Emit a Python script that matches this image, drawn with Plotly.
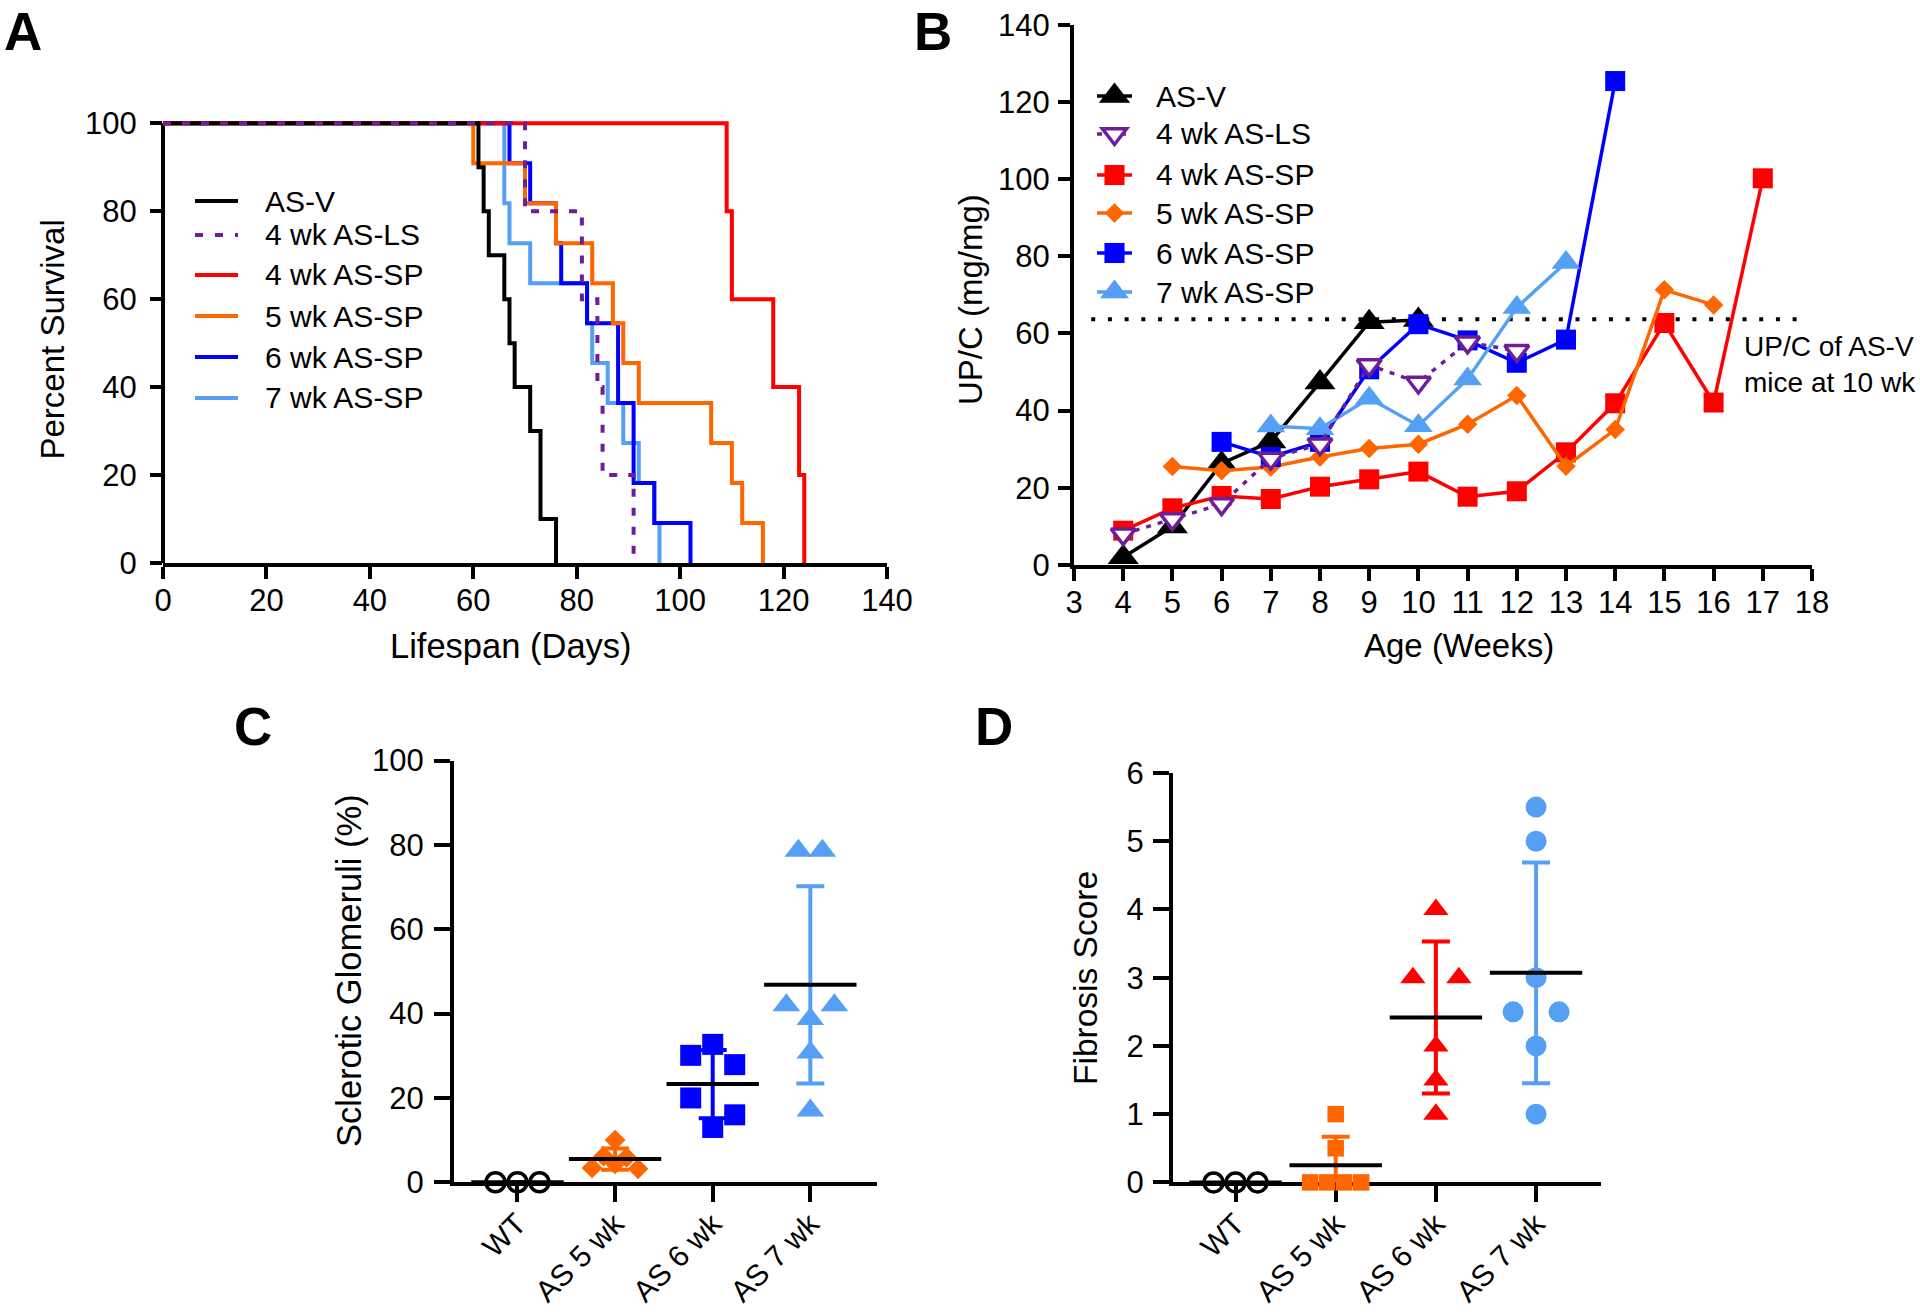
import numpy as np
import plotly.graph_objects as go

W, H = 1920, 1314
FONT = "Liberation Sans, Arial, Helvetica, sans-serif"

BLACK = "#000000"
PURPLE = "#6E1E96"
RED = "#FF0000"
ORANGE = "#FF6600"
BLUE = "#0000FF"
LBLUE = "#55A0F5"

# ------------------------------------------------------------------ data
# Panel A: Kaplan-Meier survival (day of each drop, % surviving after it)
asv_days = [0, 61, 62, 63, 66, 67, 68, 71, 73, 76]
asv_surv = [100, 90, 80, 70, 60, 50, 40, 30, 10, 0]
ls4_days = [0, 70, 81, 84, 85, 91]
ls4_surv = [100, 80, 60, 40, 20, 0]
sp4_days = [0, 109, 110, 118, 123, 124]
sp4_surv = [100, 80, 60, 40, 20, 0]
sp5_days = [0, 60, 70, 76, 83, 87, 89, 92, 106, 110, 112, 116]
sp5_surv = [100, 90.9, 81.8, 72.7, 63.6, 54.5, 45.5, 36.4, 27.3, 18.2, 9.1, 0]
sp6_days = [0, 67, 71, 76, 77, 82, 88, 91, 95, 102]
sp6_surv = [100, 90.9, 81.8, 72.7, 63.6, 54.5, 36.4, 18.2, 9.1, 0]
sp7_days = [0, 66, 67, 71, 82, 83, 86, 89, 92, 95, 96]
sp7_surv = [100, 81.8, 72.7, 63.6, 54.5, 45.5, 36.4, 27.3, 18.2, 9.1, 0]

# Panel B: UP/C (mg/mg) by age (weeks)
asv_wk = [4, 5, 6, 7, 8, 9, 10]
asv_upc = [2, 10, 26.3, 32, 47.3, 62.9, 63.5]
ls4_wk = [4, 5, 6, 7, 8, 9, 10, 11, 12]
ls4_upc = [8, 11.9, 15.8, 27.6, 31.3, 51.8, 47.3, 57.7, 55.5]
sp4_wk = [4, 5, 6, 7, 8, 9, 10, 11, 12, 13, 14, 15, 16, 17]
sp4_upc = [8.9, 14.7, 17.9, 17.1, 20.3, 22.2, 24.2, 17.7, 19.1, 29.2, 41.9, 62.7, 42.1, 100.2]
sp5_wk = [5, 6, 7, 8, 9, 10, 11, 12, 13, 14, 15, 16]
sp5_upc = [25.5, 24.4, 25.4, 28, 30.2, 31.3, 36.5, 43.9, 25.6, 35.1, 71.3, 67.4]
sp6_wk = [6, 7, 8, 9, 10, 11, 12, 13, 14]
sp6_upc = [31.9, 28, 31.9, 50.7, 62.4, 58.2, 52.4, 58.4, 125.4]
sp7_wk = [7, 8, 9, 10, 11, 12, 13]
sp7_upc = [36, 35.3, 43.2, 36.1, 48.2, 66.7, 78.4]
asv_ref_10wk = 63.7

# Panels C and D
groups = ["WT", "AS 5 wk", "AS 6 wk", "AS 7 wk"]
wt_scl = [0, 0, 0]
as5_scl = [10, 6.2, 5.9, 3.4, 4.4, 3.2]
as6_scl = [30.1, 32.7, 27.9, 20, 13, 16]
as7_scl = [78.6, 78.6, 42, 38.7, 42, 30.8, 17]
wt_fib = [0, 0, 0]
as5_fib = [1, 0.5, 0, 0, 0, 0]
as6_fib = [4, 3, 3, 2, 1.5, 1]
as7_fib = [5.5, 5, 3, 2.5, 2.5, 2, 1]

# ------------------------------------------------------------------ layout helpers
def px_x(x):
    return x / W


def px_y(y):
    return 1 - y / H


# plot-area pixel boxes (left, right) and (bottom, top)
A_X, A_Y, A_RX, A_RY = (163, 887), (563, 114.5), [0, 140], [0, 102]
B_X, B_Y, B_RX, B_RY = (1074, 1812), (565, 24.7), [3, 18], [0, 140]
C_X, C_Y, C_RX, C_RY = (454, 877.3), (1182.3, 760.5), [-0.65, 3.686], [0, 100]
D_X, D_Y, D_RX, D_RY = (1173, 1601), (1182.4, 773), [-0.624, 3.648], [0, 6]


def axis(box, horizontal, **kw):
    if horizontal:
        dom = [box[0] / W, box[1] / W]
    else:
        dom = [1 - box[0] / H, 1 - box[1] / H]
    d = dict(domain=dom, showline=True, linecolor="black", linewidth=4,
             ticks="outside", tickwidth=4, tickcolor="black", ticklen=12,
             showgrid=False, zeroline=False, layer="below traces", automargin=False,
             tickfont=dict(family=FONT, size=31, color="black"), fixedrange=True)
    d.update(kw)
    return d


fig = go.Figure()

# ------------------------------------------------------------------ Panel A
surv = [
    (sp7_days, sp7_surv, LBLUE, "solid"),
    (sp6_days, sp6_surv, BLUE, "solid"),
    (sp5_days, sp5_surv, ORANGE, "solid"),
    (sp4_days, sp4_surv, RED, "solid"),
    (asv_days, asv_surv, BLACK, "solid"),
    (ls4_days, ls4_surv, PURPLE, "8px,11px"),
]
for d, s, c, dash in surv:
    fig.add_trace(go.Scatter(x=d, y=s, mode="lines", xaxis="x", yaxis="y",
                             line=dict(shape="hv", color=c, width=4, dash=dash),
                             hoverinfo="skip"))

# ------------------------------------------------------------------ Panel B
b_series = [
    (asv_wk, asv_upc, BLACK, "solid", dict(symbol="triangle-up", size=27, color=BLACK)),
    (sp4_wk, sp4_upc, RED, "solid", dict(symbol="square", size=20, color=RED)),
    (sp5_wk, sp5_upc, ORANGE, "solid", dict(symbol="diamond", size=15, color=ORANGE)),
    (sp6_wk, sp6_upc, BLUE, "solid", dict(symbol="square", size=20, color=BLUE)),
    (sp7_wk, sp7_upc, LBLUE, "solid", dict(symbol="triangle-up", size=25, color=LBLUE)),
    (ls4_wk, ls4_upc, PURPLE, "5px,7px",
     dict(symbol="triangle-down", size=21, color="white", line=dict(color=PURPLE, width=3.5))),
]
for x, y, c, dash, mk in b_series:
    fig.add_trace(go.Scatter(x=x, y=y, mode="lines+markers", xaxis="x2", yaxis="y2",
                             line=dict(color=c, width=3.5, dash=dash), marker=mk,
                             cliponaxis=False, hoverinfo="skip"))


# ------------------------------------------------------------------ Panels C, D
def row_offsets(vals, px_per_unit, band_px, step_px, cat_px):
    """Prism-style scatter: values in the same symbol-height band share a row,
    spread horizontally and centred on the category."""
    rows = {}
    for i, v in enumerate(vals):
        rows.setdefault(int(np.floor(v * px_per_unit / band_px + 1e-9)), []).append(i)
    off = np.zeros(len(vals))
    for idx in rows.values():
        n = len(idx)
        for k, i in enumerate(idx):
            off[i] = (k - (n - 1) / 2) * step_px / cat_px
    return off


def dot_panel(xa, ya, box_x, box_y, rx, ry, sets):
    ppu = (box_y[0] - box_y[1]) / (ry[1] - ry[0])
    cat_px = (box_x[1] - box_x[0]) / (rx[1] - rx[0])
    for k, (vals, color, mk, band, step) in enumerate(sets):
        off = row_offsets(vals, ppu, band, step, cat_px)
        fig.add_trace(go.Scatter(x=k + off, y=vals, mode="markers", xaxis=xa, yaxis=ya,
                                 marker=mk, cliponaxis=False, hoverinfo="skip"))
        m = float(np.mean(vals))
        sd = float(np.std(vals, ddof=1))
        fig.add_trace(go.Scatter(
            x=[k], y=[m], mode="markers", xaxis=xa, yaxis=ya, cliponaxis=False,
            hoverinfo="skip",
            error_y=dict(type="data", array=[sd], color=color, thickness=4, width=14),
            marker=dict(symbol="line-ew", size=66, color=BLACK,
                        line=dict(color=BLACK, width=4))))


dot_panel("x3", "y3", C_X, C_Y, C_RX, C_RY, [
    (wt_scl, BLACK, dict(symbol="circle-open", size=19, color=BLACK, line=dict(width=3.5)), 20, 22),
    (as5_scl, ORANGE, dict(symbol="diamond", size=16, color=ORANGE), 20, 23),
    (as6_scl, BLUE, dict(symbol="square", size=21, color=BLUE), 21.7, 44),
    (as7_scl, LBLUE, dict(symbol="triangle-up", size=24, color=LBLUE), 23, 24),
])
dot_panel("x4", "y4", D_X, D_Y, D_RX, D_RY, [
    (wt_fib, BLACK, dict(symbol="circle-open", size=19, color=BLACK, line=dict(width=3.5)), 20, 22),
    (as5_fib, ORANGE, dict(symbol="square", size=16.5, color=ORANGE), 16.6, 17),
    (as6_fib, RED, dict(symbol="triangle-up", size=22, color=RED), 21.5, 46),
    (as7_fib, LBLUE, dict(symbol="circle", size=21, color=LBLUE), 20.7, 46),
])

# ------------------------------------------------------------------ annotations
ann = []


def text(x, y, s, size, angle=0, xanchor="center", yanchor="middle", bold=False, align="center"):
    ann.append(dict(x=px_x(x), y=px_y(y), xref="paper", yref="paper", text=f"<b>{s}</b>" if bold else s,
                    showarrow=False, textangle=angle, xanchor=xanchor, yanchor=yanchor, align=align,
                    font=dict(family=FONT, size=size, color="black")))


# panel letters (A and B hang from the top edge so their text boxes stay on the page)
text(22.5, 0, "A", 53, yanchor="top", bold=True)
text(933, 0, "B", 53, yanchor="top", bold=True)
text(253.5, 726, "C", 53, bold=True)
text(994, 726, "D", 53, bold=True)

text(51.5, 340, "Percent Survival", 33, angle=-90)
text(511, 646, "Lifespan (Days)", 34.5)
text(970, 300, "UP/C (mg/mg)", 33, angle=-90)
text(1459, 646, "Age (Weeks)", 33)
text(349, 971, "Sclerotic Glomeruli (%)", 34.5, angle=-90)
text(1085, 978, "Fibrosis Score", 33.5, angle=-90)
text(1742, 364, "UP/C of AS-V<br>mice at 10 wk", 28, xanchor="left", align="left")

shapes = []
# panel A y spine (0-100)
shapes.append(dict(type="line", xref="x domain", yref="y domain", x0=0, x1=0, y0=0,
                   y1=100 / A_RY[1], line=dict(color="black", width=4), layer="below"))
# panel B dotted reference line
shapes.append(dict(type="line", xref="x2", yref="y2", x0=3.35, x1=17.8, y0=asv_ref_10wk,
                   y1=asv_ref_10wk, line=dict(color="black", width=4, dash="4px,12.7px"), layer="below"))

# legend A
legA = [("AS-V", BLACK, "solid"), ("4 wk AS-LS", PURPLE, "8px,12px"), ("4 wk AS-SP", RED, "solid"),
        ("5 wk AS-SP", ORANGE, "solid"), ("6 wk AS-SP", BLUE, "solid"), ("7 wk AS-SP", LBLUE, "solid")]
legA_rows = [201, 235, 275, 316, 357, 398]
for (name, c, dash), ry in zip(legA, legA_rows):
    shapes.append(dict(type="line", xref="paper", yref="paper", x0=px_x(195), x1=px_x(238),
                       y0=px_y(ry), y1=px_y(ry), line=dict(color=c, width=4, dash=dash)))
    text(263, ry, name, 30, xanchor="left")


def marker_path(symbol, size):
    r = size / 2
    if symbol == "triangle-up":
        rt = r * 2 / np.sqrt(3)
        return f"M{-rt:.2f},{-r / 2:.2f} L{rt:.2f},{-r / 2:.2f} L0,{r:.2f} Z"
    if symbol == "triangle-down":
        rt = r * 2 / np.sqrt(3)
        return f"M{-rt:.2f},{r / 2:.2f} L{rt:.2f},{r / 2:.2f} L0,{-r:.2f} Z"
    if symbol == "square":
        return f"M{-r},{-r} L{r},{-r} L{r},{r} L{-r},{r} Z"
    rd = 1.3 * r
    return f"M{rd:.2f},0 L0,{rd:.2f} L{-rd:.2f},0 L0,{-rd:.2f} Z"


legB = [("AS-V", BLACK, "solid", "triangle-up", 27, BLACK, 0),
        ("4 wk AS-LS", PURPLE, "5px,7px", "triangle-down", 21, "white", 3.5),
        ("4 wk AS-SP", RED, "solid", "square", 20, RED, 0),
        ("5 wk AS-SP", ORANGE, "solid", "diamond", 15, ORANGE, 0),
        ("6 wk AS-SP", BLUE, "solid", "square", 20, BLUE, 0),
        ("7 wk AS-SP", LBLUE, "solid", "triangle-up", 25, LBLUE, 0)]
legB_rows = [96, 134, 175, 213, 253, 292]
for (name, c, dash, sym, sz, fill, lw), ry in zip(legB, legB_rows):
    shapes.append(dict(type="line", xref="paper", yref="paper", x0=px_x(1097), x1=px_x(1132),
                       y0=px_y(ry), y1=px_y(ry), line=dict(color=c, width=3.5, dash=dash)))
    shapes.append(dict(type="path", xref="paper", yref="paper", xsizemode="pixel", ysizemode="pixel",
                       xanchor=px_x(1114.5), yanchor=px_y(ry), path=marker_path(sym, sz),
                       fillcolor=fill, line=dict(color=c, width=lw if lw else 0.1)))
    text(1154, ry, name, 30, xanchor="left")

CAT_FONT = dict(family=FONT, size=30, color="black")
fig.update_layout(
    width=W, height=H, margin=dict(l=0, r=0, t=0, b=0, pad=0, autoexpand=False),
    paper_bgcolor="white", plot_bgcolor="white", showlegend=False,
    font=dict(family=FONT, color="black"),
    xaxis=axis(A_X, True, range=A_RX, tick0=0, dtick=20, ticklabelstandoff=-5, anchor="y"),
    yaxis=axis(A_Y, False, range=A_RY, tickvals=[0, 20, 40, 60, 80, 100], showline=False,
               ticklabelstandoff=7, anchor="x"),
    xaxis2=axis(B_X, True, range=B_RX, tick0=3, dtick=1, ticklabelstandoff=-5, anchor="y2"),
    yaxis2=axis(B_Y, False, range=B_RY, tick0=0, dtick=20, ticklabelstandoff=2, anchor="x2"),
    xaxis3=axis(C_X, True, range=C_RX, tickvals=[0, 1, 2, 3], ticktext=groups, tickangle=-45,
                ticklen=16, ticklabelstandoff=-8, tickfont=CAT_FONT, anchor="y3"),
    yaxis3=axis(C_Y, False, range=C_RY, tick0=0, dtick=20, ticklen=16, ticklabelstandoff=4,
                anchor="x3"),
    xaxis4=axis(D_X, True, range=D_RX, tickvals=[0, 1, 2, 3], ticktext=groups, tickangle=-45,
                ticklen=16, ticklabelstandoff=-8, tickfont=CAT_FONT, anchor="y4"),
    yaxis4=axis(D_Y, False, range=D_RY, tick0=0, dtick=1, ticklen=16, ticklabelstandoff=3,
                anchor="x4"),
    annotations=ann, shapes=shapes,
)

# pin the figure to the page's top-left corner so the page is exactly the figure size
PAGE_FIX = (
    "document.documentElement.style.margin='0';document.documentElement.style.padding='0';"
    "document.documentElement.style.overflow='hidden';"
    "document.body.style.margin='0';document.body.style.padding='0';document.body.style.overflow='hidden';"
    "var g=document.getElementById('{plot_id}');g.style.position='absolute';"
    "g.style.left='0px';g.style.top='0px';"
)
fig.write_html("out.html", post_script=PAGE_FIX, config={"displayModeBar": False})
